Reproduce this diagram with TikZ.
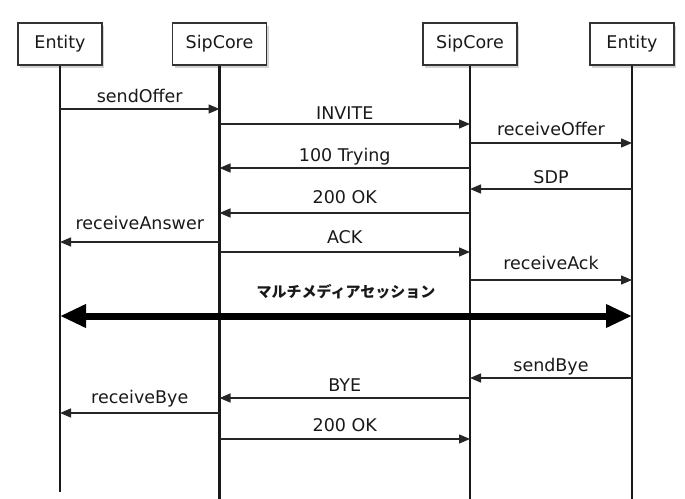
\documentclass[tikz,border=0pt]{standalone}
\usepackage{fontspec}
\setmainfont{DejaVu Sans}
\newfontfamily\jpfont{Noto Sans CJK JP}
\usetikzlibrary{arrows.meta}
\usetikzlibrary{shadows}

% message: from, to, arrow y, label y, text
\newcommand{\msg}[5]{%
  \draw[msg] (#1 |- 0,#3) -- (#2 |- 0,#3);
  \path (#1 |- 0,#4) -- (#2 |- 0,#4) node[lbl] {#5};
}

\begin{document}
\begin{tikzpicture}[x=1pt,y=-1pt,
                actor/.style={draw=black!80,line width=1.4pt,fill=white,
                  minimum height=42pt,text=black!90,
                  font=\fontsize{17.5}{20}\selectfont,
                  drop shadow={opacity=0.35,shadow xshift=2pt,shadow yshift=-2.5pt}},
                life/.style={line width=2.3pt,black!90},
                msg/.style={line width=1.4pt,black!85,-{Triangle[length=11pt,width=9pt]}},
                lbl/.style={midway,anchor=base,yshift=-6.5pt,text=black!90,
                  font=\fontsize{17.5}{20}\selectfont},
                session/.style={line width=7pt,
                  {Triangle[length=26pt,width=22pt]}-{Triangle[length=26pt,width=22pt]}},
                ]
                \useasboundingbox (0,0) rectangle (685,498);

                \node[actor,minimum width=84pt] (e1) at (60,44) {Entity};
                \node[actor,minimum width=94pt] (s1) at (219.5,44) {SipCore};
                \node[actor,minimum width=94pt] (s2) at (470,44) {SipCore};
                \node[actor,minimum width=84pt] (e2) at (632,44) {Entity};

                \draw[life] (e1.south) -- (e1 |- 0,492);
                \foreach \n in {s1,s2,e2}
                  \draw[life] (\n.south) -- (\n |- 0,499);

                \msg{e1}{s1}{109}{96}{sendOffer}
                \msg{s1}{s2}{124}{113}{INVITE}
                \msg{s2}{e2}{143}{129}{receiveOffer}
                \msg{s2}{s1}{168}{155}{100 Trying}
                \msg{e2}{s2}{189}{177}{SDP}
                \msg{s2}{s1}{213}{197}{200 OK}
                \msg{s1}{e1}{242}{223}{receiveAnswer}
                \msg{s1}{s2}{252}{237}{ACK}
                \msg{s2}{e2}{280}{263}{receiveAck}

                \draw[session] (e1 |- 0,316) -- (e2 |- 0,316);
                \path (e1 |- 0,291) -- (e2 |- 0,291)
                  node[lbl,font=\jpfont\bfseries\fontsize{15}{18}\selectfont] {マルチメディアセッション};

                \msg{e2}{s2}{378}{365}{sendBye}
                \msg{s2}{s1}{398}{385}{BYE}
                \msg{s1}{e1}{413}{397}{receiveBye}
                \msg{s1}{s2}{439}{425}{200 OK}
            \end{tikzpicture}
\end{document}
